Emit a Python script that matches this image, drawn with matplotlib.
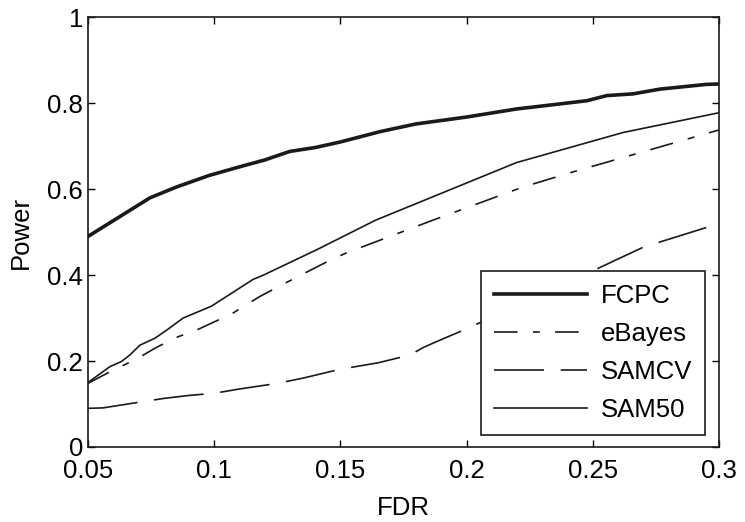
import matplotlib
matplotlib.use("Agg")
import matplotlib.pyplot as plt

plt.rcParams['font.family'] = ['Liberation Sans', 'DejaVu Sans']
plt.rcParams['lines.scale_dashes'] = False

# values
fcpc_x = [0.05, 0.0746, 0.085, 0.098, 0.11, 0.12, 0.13, 0.14, 0.15, 0.1657, 0.18, 0.2,
          0.22, 0.226, 0.2477, 0.2556, 0.266, 0.2766, 0.295, 0.3]
fcpc_y = [0.49, 0.58, 0.605, 0.632, 0.652, 0.668, 0.688, 0.697, 0.71, 0.734, 0.752, 0.768,
          0.787, 0.791, 0.806, 0.818, 0.822, 0.833, 0.844, 0.845]

ebayes_x = [0.05, 0.0587, 0.0693, 0.0772, 0.085, 0.093, 0.0996, 0.107, 0.118, 0.1267,
            0.146, 0.1525, 0.1867, 0.2223, 0.242, 0.2687, 0.3]
ebayes_y = [0.148, 0.175, 0.205, 0.232, 0.255, 0.272, 0.29, 0.31, 0.35, 0.377,
            0.435, 0.452, 0.528, 0.605, 0.64, 0.685, 0.738]

samcv_x = [0.05, 0.056, 0.07, 0.08, 0.09, 0.1, 0.11, 0.125, 0.135, 0.15, 0.165, 0.1776,
           0.183, 0.19, 0.2, 0.21, 0.225, 0.25, 0.27, 0.3]
samcv_y = [0.09, 0.091, 0.104, 0.113, 0.12, 0.125, 0.135, 0.148, 0.16, 0.181, 0.196, 0.214,
           0.232, 0.25, 0.275, 0.302, 0.345, 0.41, 0.465, 0.52]

sam50_x = [0.05, 0.0587, 0.0633, 0.0666, 0.0706, 0.0765, 0.0812, 0.0877, 0.099, 0.1154,
           0.1195, 0.1406, 0.164, 0.2198, 0.262, 0.3]
sam50_y = [0.15, 0.187, 0.199, 0.214, 0.237, 0.253, 0.272, 0.3, 0.328, 0.39,
           0.4, 0.459, 0.528, 0.662, 0.732, 0.778]

xticks = [0.05, 0.1, 0.15, 0.2, 0.25, 0.3]
xticklabels = ['0.05', '0.1', '0.15', '0.2', '0.25', '0.3']
yticks = [0, 0.2, 0.4, 0.6, 0.8, 1]
yticklabels = ['0', '0.2', '0.4', '0.6', '0.8', '1']

fig = plt.figure(figsize=(7.45, 5.22), dpi=100)
ax = fig.add_axes([0.118, 0.1437, 0.847, 0.823])

ax.plot(fcpc_x, fcpc_y, color='#1a1a1a', lw=2.6, label='FCPC')
ax.plot(ebayes_x, ebayes_y, color='#1a1a1a', lw=1.2, dashes=(17, 11, 5, 11), label='eBayes')
ax.plot(samcv_x, samcv_y, color='#1a1a1a', lw=1.2, dashes=(36, 12), label='SAMCV')
ax.plot(sam50_x, sam50_y, color='#1a1a1a', lw=1.2, label='SAM50')

ax.set_xlim(0.05, 0.3)
ax.set_ylim(0, 1)
ax.set_xticks(xticks)
ax.set_xticklabels(xticklabels)
ax.set_yticks(yticks)
ax.set_yticklabels(yticklabels)
ax.tick_params(direction='in', length=5, width=1, labelsize=18.5, top=True, right=True)
ax.tick_params(axis='x', pad=9)
ax.tick_params(axis='y', pad=3.5)
for s in ax.spines.values():
    s.set_linewidth(1.2)
    s.set_color('#1a1a1a')

ax.set_xlabel('FDR', fontsize=18.5, labelpad=9)
ax.set_ylabel('Power', fontsize=18.5, labelpad=10)

leg = ax.legend(loc='lower right', bbox_to_anchor=(0.978, 0.028), borderaxespad=0,
                fontsize=18.5, handlelength=3.6, handletextpad=0.55, labelspacing=0.55,
                borderpad=0.5, fancybox=False, framealpha=1)
leg.get_frame().set_edgecolor('#1a1a1a')
leg.get_frame().set_linewidth(1.2)

fig.savefig('out.png', dpi=100)
